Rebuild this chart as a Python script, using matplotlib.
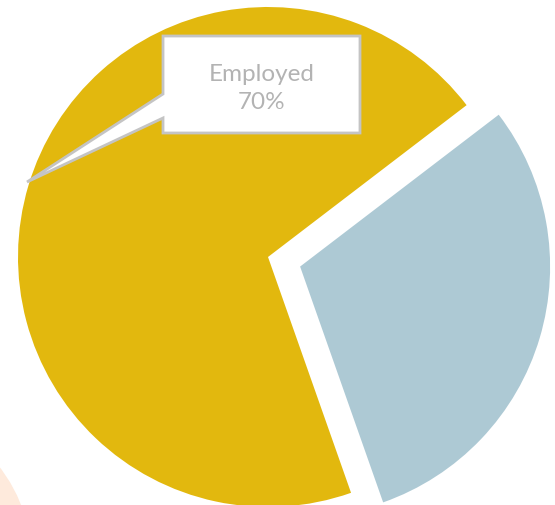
import matplotlib.pyplot as plt
from matplotlib.patches import Polygon, Circle

# data
labels = ["Employed", "Unemployed"]
shares = [70, 30]
colors = ["#E2B80E", "#ADC9D4"]
explode = [0, 33.5]  # pie offsets are in data units, not radius fractions

W, H = 555, 506


def py(y):
    # pixel row (top-down) -> data y (bottom-up)
    return H - y


fig = plt.figure(figsize=(W / 100, H / 100), dpi=100)
ax = fig.add_axes([0, 0, 1, 1])

# faint peach circle peeking in at the bottom left
ax.add_patch(Circle((-122, py(562)), 153, color="#FEEADC", zorder=0))

ax.pie(shares, colors=colors, explode=explode, startangle=37.4,
       counterclock=True, radius=250, center=(268, py(258)),
       wedgeprops=dict(linewidth=0))

# callout box with pointer
box = [(163, 37), (360, 37), (360, 134), (163, 134), (163, 119),
       (27, 183), (163, 95)]
ax.add_patch(Polygon([(x, py(y)) for x, y in box], closed=True,
                     facecolor="white", edgecolor="#C4C4C4",
                     linewidth=2, zorder=5))
ax.text(262, py(74), labels[0], ha="center", va="center",
        fontsize=17.5, color="#B3B3B3", fontfamily="Lato",
        fontweight="normal", zorder=6)
ax.text(262, py(102), f"{shares[0]}%", ha="center", va="center",
        fontsize=17.5, color="#B3B3B3", fontfamily="Lato",
        fontweight="normal", zorder=6)

ax.set_xlim(0, W)
ax.set_ylim(0, H)
ax.set_aspect("equal")
ax.axis("off")

fig.savefig("out.png", dpi=100)
